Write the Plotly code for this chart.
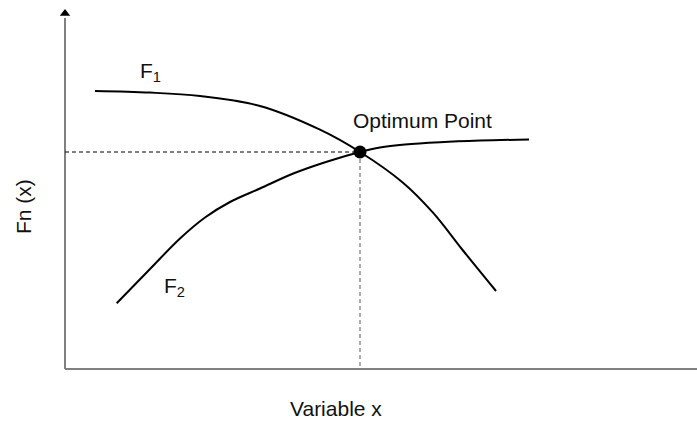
import plotly.graph_objects as go

# Curve data (x = variable, y = Fn(x))
f1_x = [3.0, 8.5, 13.5, 19.5, 25.5, 29.5, 33.8, 36.8, 39.8, 43.1]
f1_y = [27.8, 27.64, 27.29, 26.3, 23.93, 21.7, 18.63, 15.63, 11.85, 7.8]

f2_x = [5.17, 8.5, 11.5, 14.0, 16.5, 19.5, 22.83, 26.17, 29.5, 31.5, 34.0, 37.5, 41.5, 46.4]
f2_y = [6.57, 10.0, 13.05, 15.15, 16.7, 18.05, 19.55, 20.73, 21.7, 22.15, 22.45, 22.68, 22.84, 22.95]

opt_x = 29.5
opt_y = 21.7

x_range = [-6.5, 63.2]
y_range = [-5.2, 36.9]
y_axis_top = 35.1
x_axis_end = 66.0

FONT = "Liberation Sans, Arial, sans-serif"
fig = go.Figure()

# axes
fig.add_trace(go.Scatter(x=[0, 0], y=[0, y_axis_top], mode="lines",
                         line=dict(color="#808080", width=2), hoverinfo="skip"))
fig.add_trace(go.Scatter(x=[0, x_axis_end], y=[0, 0], mode="lines",
                         line=dict(color="#808080", width=2), hoverinfo="skip", cliponaxis=False))
fig.add_trace(go.Scatter(x=[0], y=[y_axis_top + 0.45], mode="markers",
                         marker=dict(symbol="triangle-up", size=9, color="black"), hoverinfo="skip"))
fig.add_trace(go.Scatter(x=[63.6], y=[0], mode="markers", cliponaxis=False,
                         marker=dict(symbol="triangle-right", size=10, color="black"), hoverinfo="skip"))

# dashed guide lines
fig.add_trace(go.Scatter(x=[0, opt_x], y=[opt_y, opt_y], mode="lines",
                         line=dict(color="black", width=1, dash="4px,3px"), hoverinfo="skip"))
fig.add_trace(go.Scatter(x=[opt_x, opt_x], y=[opt_y, 0], mode="lines",
                         line=dict(color="#808080", width=1.3, dash="4px,3px"), hoverinfo="skip"))

# curves
fig.add_trace(go.Scatter(x=f1_x, y=f1_y, mode="lines",
                         line=dict(color="black", width=2, shape="spline", smoothing=1.0), name="F1"))
fig.add_trace(go.Scatter(x=f2_x, y=f2_y, mode="lines",
                         line=dict(color="black", width=2, shape="spline", smoothing=1.0), name="F2"))

# optimum point
fig.add_trace(go.Scatter(x=[opt_x], y=[opt_y], mode="markers",
                         marker=dict(color="black", size=13), name="Optimum"))

ann = dict(xref="x", yref="y", showarrow=False, font=dict(family=FONT, size=21, color="#111111"))
fig.add_annotation(x=8.5, y=29.7, text="F<sub>1</sub>", **ann)
fig.add_annotation(x=10.9, y=8.2, text="F<sub>2</sub>", **ann)
fig.add_annotation(x=35.75, y=24.9, text="Optimum Point", **ann)
fig.add_annotation(x=27.1, y=-3.9, text="Variable x", **ann)
fig.add_annotation(x=-4.2, y=16.2, text="Fn (x)", textangle=-90, **ann)

fig.update_layout(
    width=697, height=421,
    margin=dict(l=0, r=0, t=0, b=0),
    plot_bgcolor="white", paper_bgcolor="white",
    showlegend=False,
    xaxis=dict(range=x_range, visible=False, fixedrange=True),
    yaxis=dict(range=y_range, visible=False, fixedrange=True),
)

fig.write_html("out.html", config={"displayModeBar": False},
               post_script="document.body.style.margin='0';document.body.style.overflow='hidden';")
